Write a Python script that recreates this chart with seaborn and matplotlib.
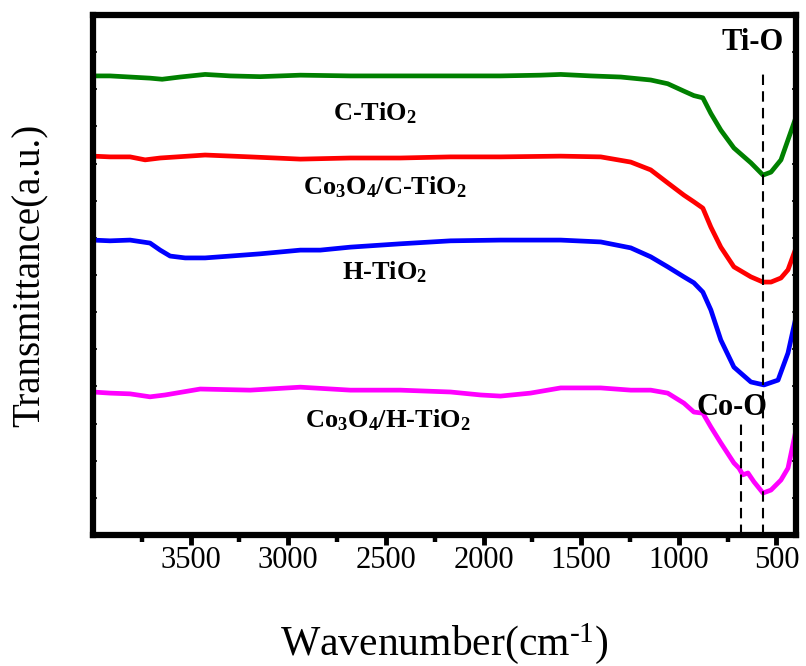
import numpy as np
import pandas as pd
import matplotlib
matplotlib.use("Agg")
import matplotlib.pyplot as plt
from matplotlib.ticker import FixedLocator
import seaborn as sns

# ---------------- data ----------------
samples = ["C-TiO2", "Co3O4/C-TiO2", "H-TiO2", "Co3O4/H-TiO2"]
colors = ["#008000", "#ff0000", "#0000ff", "#ff00ff"]

wn_c = [4000, 3913, 3810, 3708, 3646, 3554, 3426, 3297, 3144, 2938, 2682, 2426, 2169,
        1913, 1708, 1605, 1451, 1297, 1144, 1057, 974, 923, 877, 836, 785, 718, 631,
        569, 528, 477, 400]
t_c = [12.36, 12.36, 12.33, 12.30, 12.27, 12.33, 12.40, 12.36, 12.34, 12.38, 12.36, 12.36,
       12.36, 12.36, 12.38, 12.40, 12.36, 12.33, 12.25, 12.15, 11.95, 11.83, 11.77, 11.35,
       10.90, 10.42, 10.02, 9.69, 9.77, 10.10, 11.25]

wn_coc = [4000, 3913, 3810, 3733, 3656, 3426, 3195, 2938, 2682, 2426, 2169, 1913, 1605,
          1400, 1246, 1144, 1057, 974, 923, 877, 836, 785, 718, 631, 569, 528, 477, 441, 400]
t_coc = [10.20, 10.18, 10.18, 10.10, 10.15, 10.23, 10.18, 10.12, 10.15, 10.15, 10.18, 10.18,
         10.20, 10.18, 10.04, 9.83, 9.48, 9.15, 8.97, 8.80, 8.29, 7.75, 7.22, 6.95, 6.81,
         6.81, 6.92, 7.14, 7.73]

wn_h = [4000, 3913, 3810, 3708, 3656, 3605, 3528, 3426, 3297, 3144, 2938, 2836, 2682, 2426,
        2169, 1913, 1605, 1400, 1246, 1144, 1057, 974, 923, 877, 836, 785, 718, 631, 564,
        492, 441, 400]
t_h = [7.94, 7.92, 7.94, 7.86, 7.67, 7.51, 7.46, 7.46, 7.51, 7.57, 7.67, 7.67, 7.75, 7.84,
       7.92, 7.94, 7.94, 7.89, 7.73, 7.49, 7.22, 6.95, 6.79, 6.54, 6.06, 5.25, 4.52, 4.12,
       4.04, 4.17, 4.90, 5.87]

wn_coh = [4000, 3913, 3810, 3708, 3631, 3451, 3195, 2938, 2682, 2426, 2169, 2015, 1913, 1760,
          1605, 1400, 1246, 1144, 1057, 974, 923, 877, 836, 785, 718, 692, 672, 646, 615,
          569, 528, 477, 441, 400]
t_coh = [3.85, 3.82, 3.80, 3.72, 3.77, 3.93, 3.90, 3.98, 3.90, 3.90, 3.85, 3.77, 3.74, 3.82,
         3.96, 3.96, 3.90, 3.90, 3.82, 3.55, 3.31, 3.28, 2.91, 2.48, 1.94, 1.80, 1.62, 1.67,
         1.43, 1.13, 1.21, 1.48, 1.80, 2.83]

curve_labels = [r"C-TiO$_\mathbf{2}$",
                r"Co$_\mathbf{3}$O$_\mathbf{4}$/C-TiO$_\mathbf{2}$",
                r"H-TiO$_\mathbf{2}$",
                r"Co$_\mathbf{3}$O$_\mathbf{4}$/H-TiO$_\mathbf{2}$"]
label_x = [2556, 2505, 2505, 2490]
label_y = [11.36, 9.37, 7.08, 3.10]

band_names = ["Ti-O", "Co-O"]
band_wn = [570, 682]
band_top = [12.52, 3.10]
band_text_x = [621, 728]
band_text_y = [13.25, 3.42]

x_major = [3500, 3000, 2500, 2000, 1500, 1000, 500]
x_minor = [3750, 3250, 2750, 2250, 1750, 1250, 750]
y_ticks = list(range(1, 14))

# ---------------- build table ----------------
frames = []
for name, wn, t in zip(samples, [wn_c, wn_coc, wn_h, wn_coh], [t_c, t_coc, t_h, t_coh]):
    frames.append(pd.DataFrame({"wn": wn, "T": t, "sample": name}))
df = pd.concat(frames, ignore_index=True)

# ---------------- style ----------------
sns.set_style("ticks")
plt.rcParams["font.family"] = ["Liberation Serif", "DejaVu Serif"]
plt.rcParams["mathtext.fontset"] = "custom"
plt.rcParams["mathtext.rm"] = "Liberation Serif"
plt.rcParams["mathtext.it"] = "Liberation Serif:italic"
plt.rcParams["mathtext.bf"] = "Liberation Serif:bold"
for key in ["text.color", "axes.labelcolor", "xtick.color", "ytick.color", "axes.edgecolor"]:
    plt.rcParams[key] = "black"

fig = plt.figure(figsize=(8.06, 6.66), dpi=100)
ax = fig.add_axes([93 / 806, 1 - 535 / 666, 703 / 806, 520 / 666])

sns.lineplot(data=df, x="wn", y="T", hue="sample", hue_order=samples,
             palette=colors, linewidth=3.4, legend=False, ax=ax, estimator=None,
             solid_joinstyle="round", solid_capstyle="round")

for wn, top in zip(band_wn, band_top):
    ax.plot([wn, wn], [0, top], color="black", linewidth=1.5, linestyle=(0, (5, 3)))

for txt, x, y in zip(curve_labels, label_x, label_y):
    ax.text(x, y, txt, ha="center", va="center", fontsize=19, fontweight="bold",
            color="black")

for txt, x, y in zip(band_names, band_text_x, band_text_y):
    ax.text(x, y, txt, ha="center", va="center", fontsize=22, fontweight="bold",
            color="black")

ax.set_xlim(4000, 400)
ax.set_ylim(0, 14)
ax.xaxis.set_major_locator(FixedLocator(x_major))
ax.xaxis.set_minor_locator(FixedLocator(x_minor))
ax.set_xticklabels([str(v) for v in x_major])
ax.set_yticks(y_ticks)
ax.set_yticklabels([])

ax.tick_params(axis="x", which="major", direction="out", length=7, width=3.5,
               labelsize=22, pad=1, colors="black")
ax.tick_params(axis="x", which="minor", direction="out", length=5, width=3.2,
               colors="black")
ax.tick_params(axis="y", which="both", direction="in", length=3, width=1.2,
               left=True, right=True, colors="black")

for sp in ax.spines.values():
    sp.set_linewidth(4.5)
    sp.set_color("black")

ax.set_xlabel(r"Wavenumber(cm$^{\text{-}1}$)", fontsize=30, color="black")
ax.xaxis.label.set_va("baseline")
ax.xaxis.set_label_coords(0.5, (535 - 655) / 520)

ax.set_ylabel("Transmittance(a.u.)", fontsize=28, color="black")
ax.yaxis.label.set(ha="center", va="center", rotation_mode="default")
ax.yaxis.set_label_coords((30 - 93) / 703, 0.5)

fig.savefig("out.png", dpi=100)
